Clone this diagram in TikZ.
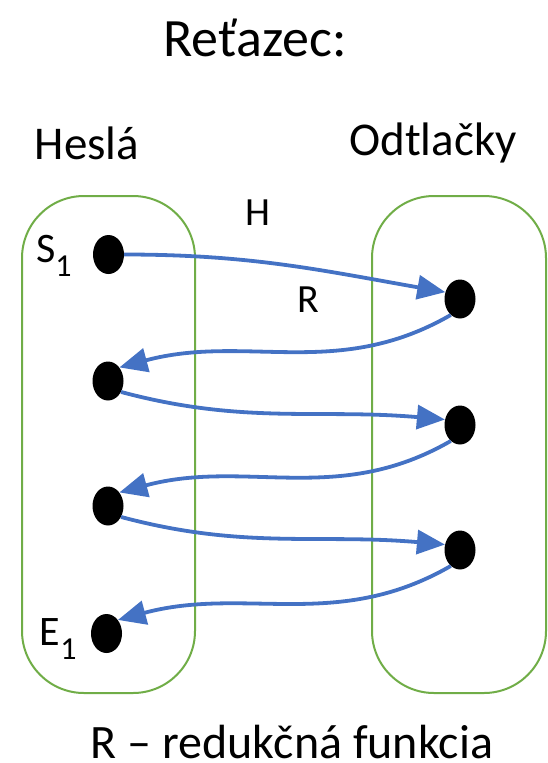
\documentclass[tikz,border=0pt]{standalone}
\usepackage{fontspec}
\setmainfont{Carlito}
\usetikzlibrary{positioning,shapes.geometric,arrows.meta}
\definecolor{boxgreen}{HTML}{70AD47}
\definecolor{chainblue}{HTML}{4472C4}
\newcommand{\lowsub}[1]{\raisebox{-14pt}{\fontsize{32}{32}\selectfont #1}}

\begin{document}
\begin{tikzpicture}[x=1pt,y=1pt]
  \useasboundingbox (0,0) rectangle (548,-763);
  % headings
  \node[font=\fontsize{54}{60}\selectfont] (title) at (255,-38) {Reťazec:};
  \node[font=\fontsize{47}{52}\selectfont] (hesla) at (87,-143) {Heslá};
  \node[font=\fontsize{47}{52}\selectfont] (odtlacky) at (433,-143) {Odtlačky};
  \node[font=\fontsize{48}{52}\selectfont, anchor=base, inner sep=0pt] (redukcia) at (292,-758) {R -- redukčná funkcia};
  % the two sets
  \draw[boxgreen, line width=2pt, rounded corners=62pt] (22,-196) rectangle (195,-693);
  \draw[boxgreen, line width=2pt, rounded corners=62pt] (372,-196) rectangle (546,-693);
  \tikzstyle{dot} = [ellipse,fill=black,minimum width=31pt,minimum height=39pt,inner sep=0pt];
  \tikzstyle{sublabel} = [font=\fontsize{42}{44}\selectfont,inner sep=0pt,anchor=base east];
  \node[dot] (h1) at (108.5,-254.5) {};
  \node[dot] (h2) at (108,-381) {};
  \node[dot] (h3) at (108,-506) {};
  \node[dot] (h4) at (106.5,-633.5) {};
  \node[dot] (o1) at (460,-299) {};
  \node[dot] (o2) at (460,-425) {};
  \node[dot] (o3) at (460,-550) {};
  \node[sublabel] (s1) at ([xshift=-21pt,yshift=-7.5pt]h1.west) {S\lowsub{1}};
  \node[sublabel] (e1) at ([xshift=-14pt,yshift=-11.5pt]h4.west) {E\lowsub{1}};
  \node[font=\fontsize{40}{44}\selectfont] (lblH) at (258,-213) {H};
  \node[font=\fontsize{40}{44}\selectfont] (lblR) at (308,-300) {R};
  % chain
  \tikzstyle{chain} = [chainblue,line width=3.8pt,-{Triangle[length=28pt,width=24pt]}];
  \draw[chain] (h1.east) to[out=0,in=170] (o1.155);
  \draw[chain] (o1.240) to[out=-150,in=15] (h2.50);
  \draw[chain] (h2.-40) to[out=-15,in=175] (o2.160);
  \draw[chain] (o2.240) to[out=-150,in=15] (h3.50);
  \draw[chain] (h3.-40) to[out=-15,in=175] (o3.160);
  \draw[chain] (o3.240) to[out=-150,in=15] (h4.50);
\end{tikzpicture}
\end{document}
